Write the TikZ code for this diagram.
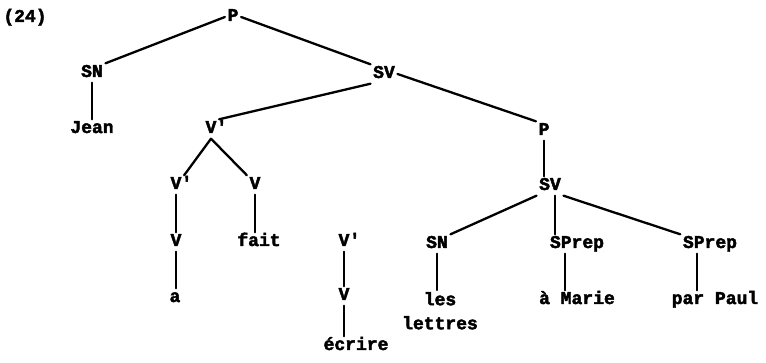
\documentclass[tikz,border=0pt]{standalone}
\usepackage{fontspec}
\newfontfamily\tw[FakeBold=2.5]{Liberation Mono Bold}
\begin{document}
\begin{tikzpicture}[x=1pt,y=-1pt,
  lab/.style={anchor=base,inner sep=2.5pt,text height=11pt,text depth=3pt,font=\tw\fontsize{18}{24}\selectfont},
  lab2/.style={anchor=north,inner sep=2pt,align=center,font=\tw\fontsize{18}{24}\selectfont},
  edge/.style={line width=2.3pt,line cap=round}]
\useasboundingbox (0,0) rectangle (766,363);
% labels
\node[lab] (num) at (25,22) {(24)};
\node[lab] (p1) at (233,21) {P};
\node[lab] (sn1) at (92,77) {SN};
\node[lab] (jean) at (92,133) {Jean};
\node[lab] (sv1) at (384,78) {SV};
\node[lab] (vb1) at (211,133) {V\rlap{'}};
\node[lab] (vb2) at (176,189) {V\rlap{'}};
\node[lab] (v1) at (255,189) {V};
\node[lab] (v2) at (176,246) {V};
\node[lab] (fait) at (259,246) {fait};
\node[lab] (a) at (175,302) {a};
\node[lab] (vb3) at (344,246) {V\rlap{'}};
\node[lab] (v3) at (344,300) {V};
\node[lab] (ecrire) at (356,350) {écrire};
\node[lab] (p2) at (544,135) {P};
\node[lab] (sv2) at (550,190) {SV};
\node[lab] (sn2) at (437,248) {SN};
\node[lab] (sp1) at (577,248) {SPrep};
\node[lab] (sp2) at (710,248) {SPrep};
\node[lab2] (lett) at (440,290) {les\\lettres};
\node[lab] (am) at (577,304) {à Marie};
\node[lab] (pp) at (715,304) {par Paul};
% edges
\draw[edge] (p1.west) -- (sn1.north east);
\draw[edge] (p1.east) -- (sv1.north west);
\draw[edge] (sn1.south) -- (sn1.south |- jean.north);
\draw[edge] (sv1.south west) -- (vb1.north east);
\draw[edge] (vb1.south) -- (vb2.north east);
\draw[edge] (vb1.south) -- (v1.north west);
\draw[edge] (vb2.south) -- (vb2.south |- v2.north);
\draw[edge] (v2.south) -- (v2.south |- a.north);
\draw[edge] (v1.south) -- (v1.south |- fait.north);
\draw[edge] (vb3.south) -- (vb3.south |- v3.north);
\draw[edge] (v3.south) -- (v3.south |- ecrire.north);
\draw[edge] (sv1.east) -- (p2.north west);
\draw[edge] (p2.south) -- (p2.south |- sv2.north);
\draw[edge] (sv2.south west) -- (sn2.north east);
\draw[edge] ([xshift=5pt]sv2.south) -- ([xshift=5pt]sv2.south |- sp1.north);
\draw[edge] (sv2.south east) -- (sp2.north west);
\draw[edge] (sn2.south) -- (sn2.south |- lett.north);
\draw[edge] ([xshift=-12pt]sp1.south) -- ([xshift=-12pt]sp1.south |- am.north);
\draw[edge] ([xshift=-13pt]sp2.south) -- ([xshift=-13pt]sp2.south |- pp.north);
\end{tikzpicture}
\end{document}
